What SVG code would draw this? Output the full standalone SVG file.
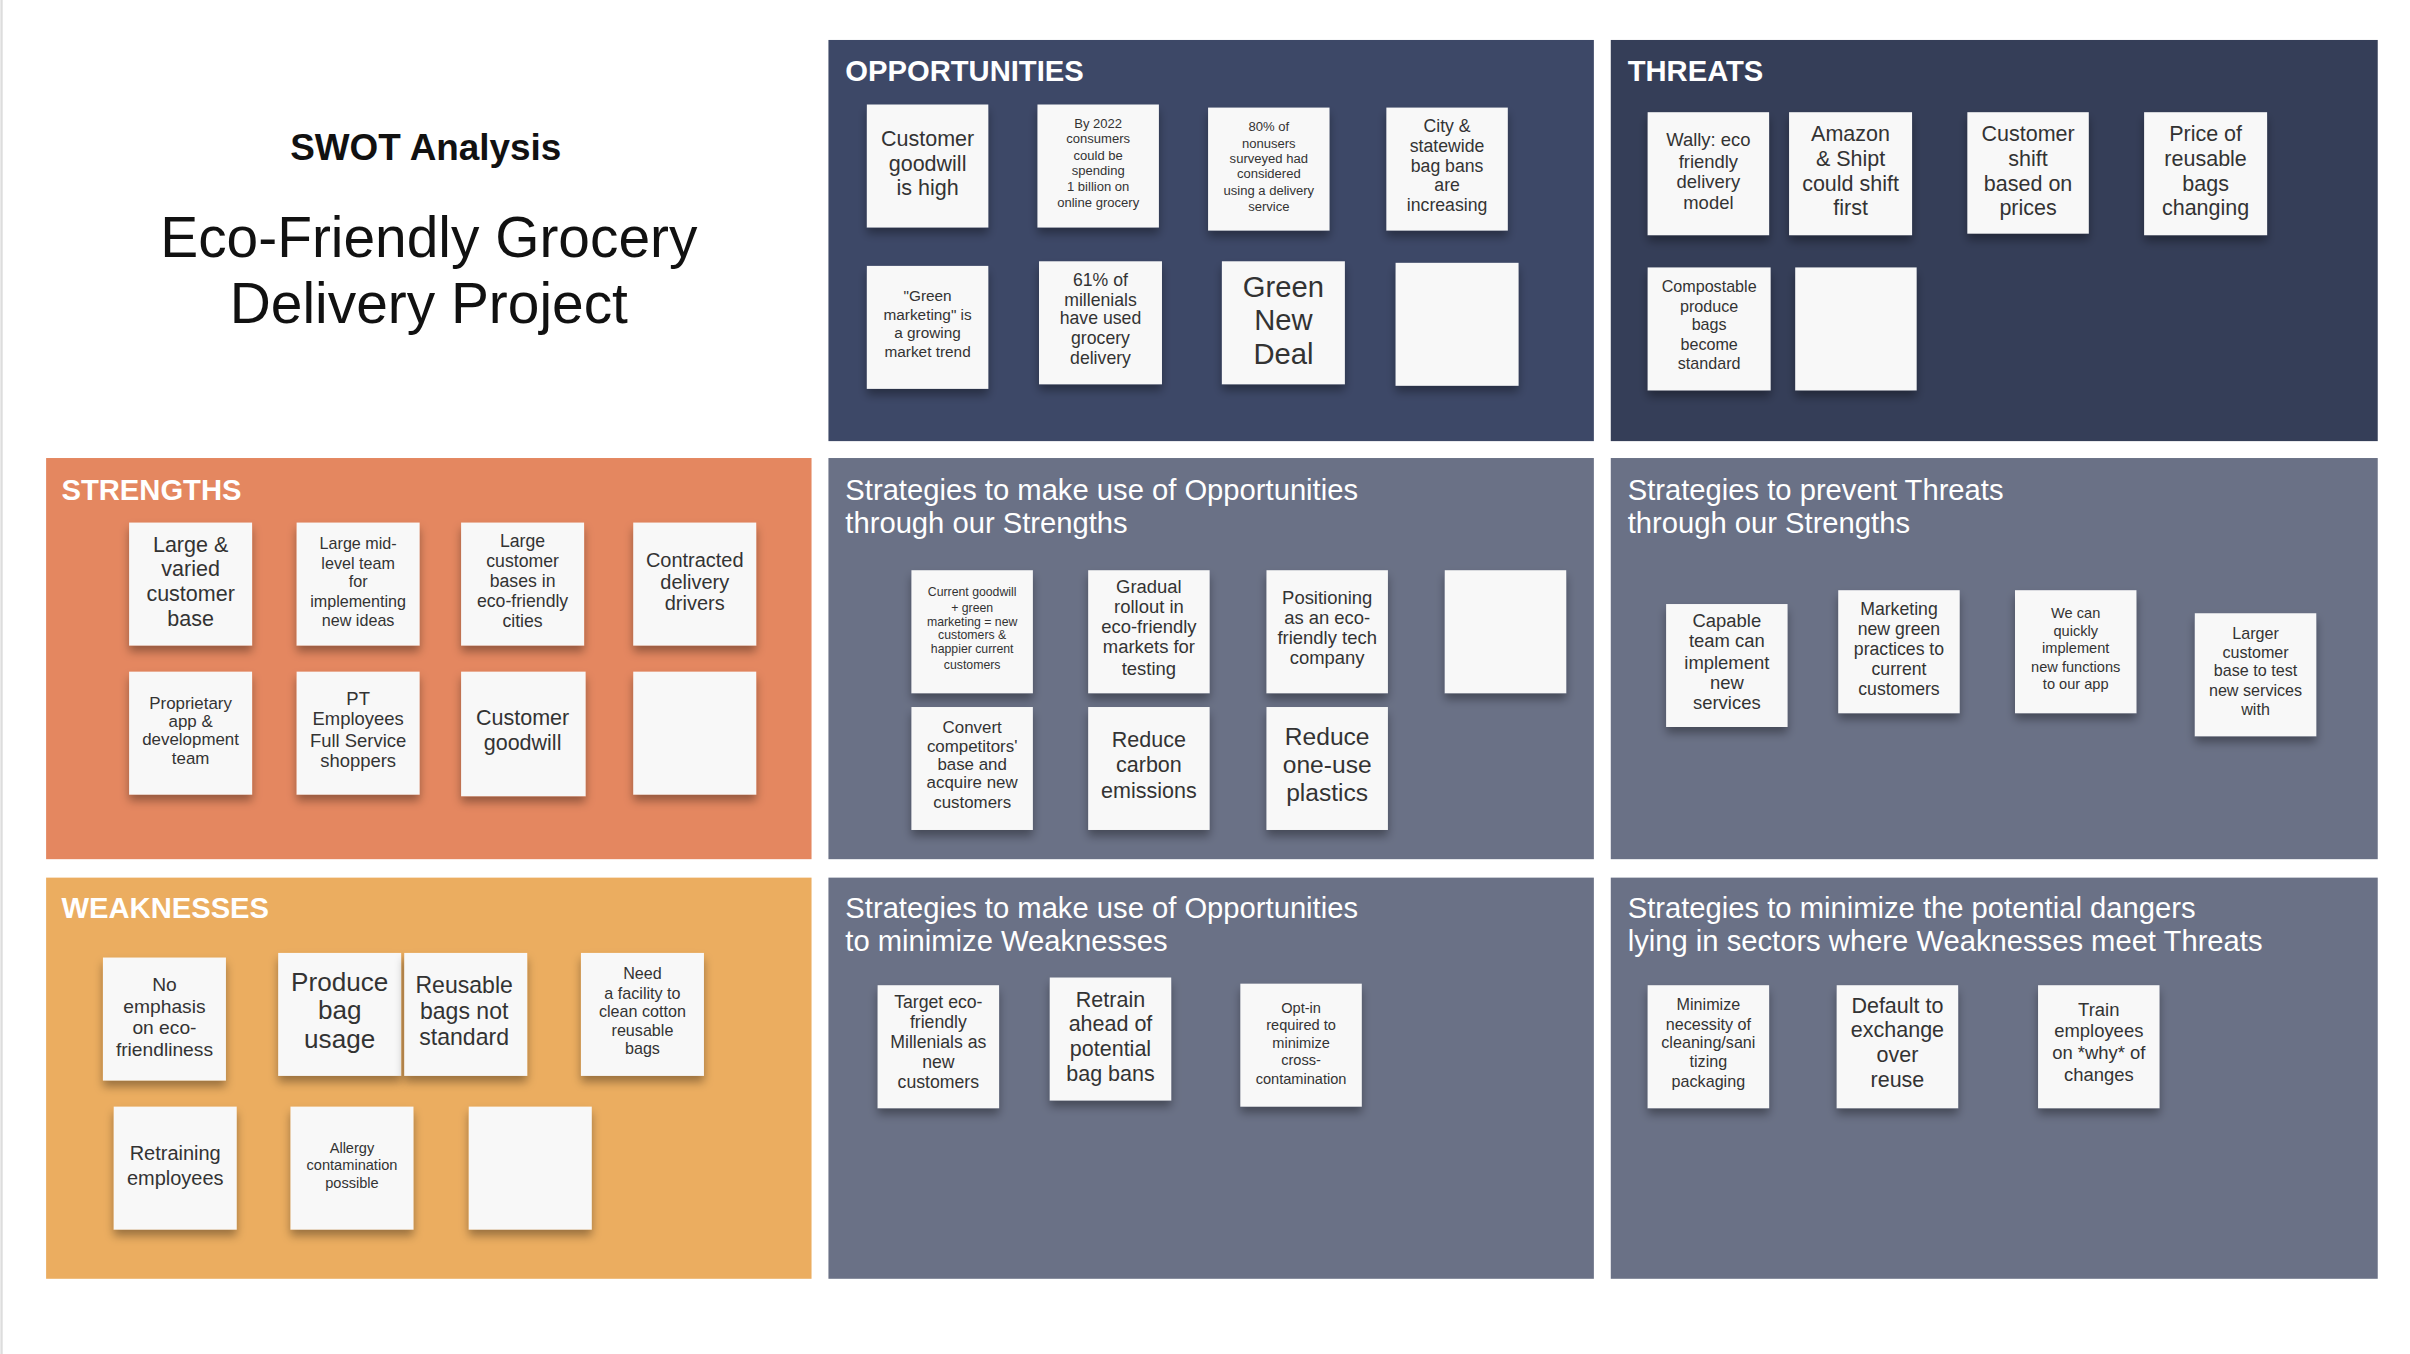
<svg xmlns="http://www.w3.org/2000/svg" width="2410" height="1354" viewBox="0 0 2410 1354">
<defs>
<filter id="sh" x="-20%" y="-20%" width="140%" height="150%"><feDropShadow dx="0" dy="4" stdDeviation="3" flood-color="#000" flood-opacity="0.35"/></filter>
<style>
text{font-family:"Liberation Sans",Arial,sans-serif;}
.n{fill:#f8f8f8;filter:url(#sh);}
.t{fill:#333;text-anchor:middle;}
.h{fill:#fff;font-weight:bold;font-size:19px;}
.s{fill:#fff;font-size:19px;}
</style>
</defs>
<rect width="2410" height="1354" fill="#fff"/>
<g transform="scale(1.537)">
<line x1="1" y1="0" x2="1" y2="881" stroke="#ddd" stroke-width="1.5"/>
<g id="title">
<text x="277" y="104" text-anchor="middle" font-size="24" font-weight="bold" fill="#111">SWOT Analysis</text>
<text x="279" y="167" text-anchor="middle" font-size="37" fill="#111">Eco-Friendly Grocery</text>
<text x="279" y="210" text-anchor="middle" font-size="37" fill="#111">Delivery Project</text>
</g>
<g id="panels">
<rect x="539" y="26" width="498" height="261" fill="#3d4867"/>
<rect x="1048" y="26" width="499" height="261" fill="#353e58"/>
<rect x="30" y="298" width="498" height="261" fill="#e48760"/>
<rect x="539" y="298" width="498" height="261" fill="#6a7186"/>
<rect x="1048" y="298" width="499" height="261" fill="#6a7186"/>
<rect x="30" y="571" width="498" height="261" fill="#ebad60"/>
<rect x="539" y="571" width="498" height="261" fill="#6a7186"/>
<rect x="1048" y="571" width="499" height="261" fill="#6a7186"/>
<text class="h" x="550" y="53">OPPORTUNITIES</text>
<text class="h" x="1059" y="53">THREATS</text>
<text class="h" x="40" y="325">STRENGTHS</text>
<text class="h" x="40" y="597">WEAKNESSES</text>
<text class="s" x="550" y="325">Strategies to make use of Opportunities</text>
<text class="s" x="550" y="347">through our Strengths</text>
<text class="s" x="1059" y="325">Strategies to prevent Threats</text>
<text class="s" x="1059" y="347">through our Strengths</text>
<text class="s" x="550" y="597">Strategies to make use of Opportunities</text>
<text class="s" x="550" y="619">to minimize Weaknesses</text>
<text class="s" x="1059" y="597">Strategies to minimize the potential dangers</text>
<text class="s" x="1059" y="619">lying in sectors where Weaknesses meet Threats</text>
</g>

<!-- Opportunities -->
<g id="o1"><rect class="n" x="564" y="68" width="79" height="80"/><text class="t" font-size="14"><tspan x="603.5" y="95">Customer</tspan><tspan x="603.5" y="111">goodwill</tspan><tspan x="603.5" y="127">is high</tspan></text></g>
<g id="o2"><rect class="n" x="675" y="68" width="79" height="80"/><text class="t" font-size="8.5"><tspan x="714.5" y="83">By 2022</tspan><tspan x="714.5" y="93">consumers</tspan><tspan x="714.5" y="104">could be</tspan><tspan x="714.5" y="114">spending</tspan><tspan x="714.5" y="124">1 billion on</tspan><tspan x="714.5" y="135">online grocery</tspan></text></g>
<g id="o3"><rect class="n" x="786" y="70" width="79" height="80"/><text class="t" font-size="8.5"><tspan x="825.5" y="85">80% of</tspan><tspan x="825.5" y="96">nonusers</tspan><tspan x="825.5" y="106">surveyed had</tspan><tspan x="825.5" y="116">considered</tspan><tspan x="825.5" y="127">using a delivery</tspan><tspan x="825.5" y="137">service</tspan></text></g>
<g id="o4"><rect class="n" x="902" y="70" width="79" height="80"/><text class="t" font-size="11.5"><tspan x="941.5" y="86">City &amp;</tspan><tspan x="941.5" y="99">statewide</tspan><tspan x="941.5" y="112">bag bans</tspan><tspan x="941.5" y="124">are</tspan><tspan x="941.5" y="137">increasing</tspan></text></g>
<g id="o5"><rect class="n" x="564" y="173" width="79" height="80"/><text class="t" font-size="10"><tspan x="603.5" y="196">"Green</tspan><tspan x="603.5" y="208">marketing" is</tspan><tspan x="603.5" y="220">a growing</tspan><tspan x="603.5" y="232">market trend</tspan></text></g>
<g id="o6"><rect class="n" x="676" y="170" width="80" height="80"/><text class="t" font-size="11.5"><tspan x="716" y="186">61% of</tspan><tspan x="716" y="199">millenials</tspan><tspan x="716" y="211">have used</tspan><tspan x="716" y="224">grocery</tspan><tspan x="716" y="237">delivery</tspan></text></g>
<g id="o7"><rect class="n" x="795" y="170" width="80" height="80"/><text class="t" font-size="19"><tspan x="835" y="193">Green</tspan><tspan x="835" y="215">New</tspan><tspan x="835" y="237">Deal</tspan></text></g>
<g id="o8"><rect class="n" x="908" y="171" width="80" height="80"/></g>

<!-- Threats -->
<g id="t1"><rect class="n" x="1072" y="73" width="79" height="80"/><text class="t" font-size="12"><tspan x="1111.5" y="95">Wally: eco</tspan><tspan x="1111.5" y="109">friendly</tspan><tspan x="1111.5" y="122">delivery</tspan><tspan x="1111.5" y="136">model</tspan></text></g>
<g id="t2"><rect class="n" x="1164" y="73" width="80" height="80"/><text class="t" font-size="14"><tspan x="1204" y="92">Amazon</tspan><tspan x="1204" y="108">&amp; Shipt</tspan><tspan x="1204" y="124">could shift</tspan><tspan x="1204" y="140">first</tspan></text></g>
<g id="t3"><rect class="n" x="1280" y="73" width="79" height="79"/><text class="t" font-size="14"><tspan x="1319.5" y="92">Customer</tspan><tspan x="1319.5" y="108">shift</tspan><tspan x="1319.5" y="124">based on</tspan><tspan x="1319.5" y="140">prices</tspan></text></g>
<g id="t4"><rect class="n" x="1395" y="73" width="80" height="80"/><text class="t" font-size="14"><tspan x="1435" y="92">Price of</tspan><tspan x="1435" y="108">reusable</tspan><tspan x="1435" y="124">bags</tspan><tspan x="1435" y="140">changing</tspan></text></g>
<g id="t5"><rect class="n" x="1072" y="174" width="80" height="80"/><text class="t" font-size="10.5"><tspan x="1112" y="190">Compostable</tspan><tspan x="1112" y="203">produce</tspan><tspan x="1112" y="215">bags</tspan><tspan x="1112" y="228">become</tspan><tspan x="1112" y="240">standard</tspan></text></g>
<g id="t6"><rect class="n" x="1168" y="174" width="79" height="80"/></g>

<!-- Strengths -->
<g id="s1"><rect class="n" x="84" y="340" width="80" height="80"/><text class="t" font-size="14"><tspan x="124" y="359">Large &amp;</tspan><tspan x="124" y="375">varied</tspan><tspan x="124" y="391">customer</tspan><tspan x="124" y="407">base</tspan></text></g>
<g id="s2"><rect class="n" x="193" y="340" width="80" height="80"/><text class="t" font-size="10.5"><tspan x="233" y="357">Large mid-</tspan><tspan x="233" y="370">level team</tspan><tspan x="233" y="382">for</tspan><tspan x="233" y="395">implementing</tspan><tspan x="233" y="407">new ideas</tspan></text></g>
<g id="s3"><rect class="n" x="300" y="340" width="80" height="80"/><text class="t" font-size="11.5"><tspan x="340" y="356">Large</tspan><tspan x="340" y="369">customer</tspan><tspan x="340" y="382">bases in</tspan><tspan x="340" y="395">eco-friendly</tspan><tspan x="340" y="408">cities</tspan></text></g>
<g id="s4"><rect class="n" x="412" y="340" width="80" height="80"/><text class="t" font-size="13"><tspan x="452" y="369">Contracted</tspan><tspan x="452" y="383">delivery</tspan><tspan x="452" y="397">drivers</tspan></text></g>
<g id="s5"><rect class="n" x="84" y="437" width="80" height="80"/><text class="t" font-size="11"><tspan x="124" y="461">Proprietary</tspan><tspan x="124" y="473">app &amp;</tspan><tspan x="124" y="485">development</tspan><tspan x="124" y="497">team</tspan></text></g>
<g id="s6"><rect class="n" x="193" y="437" width="80" height="80"/><text class="t" font-size="12"><tspan x="233" y="459">PT</tspan><tspan x="233" y="472">Employees</tspan><tspan x="233" y="486">Full Service</tspan><tspan x="233" y="499">shoppers</tspan></text></g>
<g id="s7"><rect class="n" x="300" y="437" width="81" height="81"/><text class="t" font-size="14"><tspan x="340" y="472">Customer</tspan><tspan x="340" y="488">goodwill</tspan></text></g>
<g id="s8"><rect class="n" x="412" y="437" width="80" height="80"/></g>

<!-- Weaknesses -->
<g id="w1"><rect class="n" x="67" y="623" width="80" height="80"/><text class="t" font-size="12.5"><tspan x="107" y="645">No</tspan><tspan x="107" y="659">emphasis</tspan><tspan x="107" y="673">on eco-</tspan><tspan x="107" y="687">friendliness</tspan></text></g>
<g id="w2"><rect class="n" x="181" y="620" width="80" height="80"/><text class="t" font-size="17"><tspan x="221" y="645">Produce</tspan><tspan x="221" y="663">bag</tspan><tspan x="221" y="682">usage</tspan></text></g>
<g id="w3"><rect class="n" x="263" y="620" width="80" height="80"/><text class="t" font-size="15"><tspan x="302" y="646">Reusable</tspan><tspan x="302" y="663">bags not</tspan><tspan x="302" y="680">standard</tspan></text></g>
<g id="w4"><rect class="n" x="378" y="620" width="80" height="80"/><text class="t" font-size="10.5"><tspan x="418" y="637">Need</tspan><tspan x="418" y="650">a facility to</tspan><tspan x="418" y="662">clean cotton</tspan><tspan x="418" y="674">reusable</tspan><tspan x="418" y="686">bags</tspan></text></g>
<g id="w5"><rect class="n" x="74" y="720" width="80" height="80"/><text class="t" font-size="13"><tspan x="114" y="755">Retraining</tspan><tspan x="114" y="771">employees</tspan></text></g>
<g id="w6"><rect class="n" x="189" y="720" width="80" height="80"/><text class="t" font-size="9.5"><tspan x="229" y="750">Allergy</tspan><tspan x="229" y="761">contamination</tspan><tspan x="229" y="773">possible</tspan></text></g>
<g id="w7"><rect class="n" x="305" y="720" width="80" height="80"/></g>

<!-- SO -->
<g id="so1"><rect class="n" x="593" y="371" width="79" height="80"/><text class="t" font-size="8"><tspan x="632.5" y="388">Current goodwill</tspan><tspan x="632.5" y="398">+ green</tspan><tspan x="632.5" y="407">marketing = new</tspan><tspan x="632.5" y="416">customers &amp;</tspan><tspan x="632.5" y="425">happier current</tspan><tspan x="632.5" y="435">customers</tspan></text></g>
<g id="so2"><rect class="n" x="708" y="371" width="79" height="80"/><text class="t" font-size="12"><tspan x="747.5" y="386">Gradual</tspan><tspan x="747.5" y="399">rollout in</tspan><tspan x="747.5" y="412">eco-friendly</tspan><tspan x="747.5" y="425">markets for</tspan><tspan x="747.5" y="439">testing</tspan></text></g>
<g id="so3"><rect class="n" x="824" y="371" width="79" height="80"/><text class="t" font-size="12"><tspan x="863.5" y="393">Positioning</tspan><tspan x="863.5" y="406">as an eco-</tspan><tspan x="863.5" y="419">friendly tech</tspan><tspan x="863.5" y="432">company</tspan></text></g>
<g id="so4"><rect class="n" x="940" y="371" width="79" height="80"/></g>
<g id="so5"><rect class="n" x="593" y="460" width="79" height="80"/><text class="t" font-size="11"><tspan x="632.5" y="477">Convert</tspan><tspan x="632.5" y="489">competitors'</tspan><tspan x="632.5" y="501">base and</tspan><tspan x="632.5" y="513">acquire new</tspan><tspan x="632.5" y="526">customers</tspan></text></g>
<g id="so6"><rect class="n" x="708" y="460" width="79" height="80"/><text class="t" font-size="14"><tspan x="747.5" y="486">Reduce</tspan><tspan x="747.5" y="502">carbon</tspan><tspan x="747.5" y="519">emissions</tspan></text></g>
<g id="so7"><rect class="n" x="824" y="460" width="79" height="80"/><text class="t" font-size="16"><tspan x="863.5" y="485">Reduce</tspan><tspan x="863.5" y="503">one-use</tspan><tspan x="863.5" y="521">plastics</tspan></text></g>

<!-- ST -->
<g id="st1"><rect class="n" x="1084" y="393" width="79" height="80"/><text class="t" font-size="12"><tspan x="1123.5" y="408">Capable</tspan><tspan x="1123.5" y="421">team can</tspan><tspan x="1123.5" y="435">implement</tspan><tspan x="1123.5" y="448">new</tspan><tspan x="1123.5" y="461">services</tspan></text></g>
<g id="st2"><rect class="n" x="1196" y="384" width="79" height="80"/><text class="t" font-size="11.5"><tspan x="1235.5" y="400">Marketing</tspan><tspan x="1235.5" y="413">new green</tspan><tspan x="1235.5" y="426">practices to</tspan><tspan x="1235.5" y="439">current</tspan><tspan x="1235.5" y="452">customers</tspan></text></g>
<g id="st3"><rect class="n" x="1311" y="384" width="79" height="80"/><text class="t" font-size="9.5"><tspan x="1350.5" y="402">We can</tspan><tspan x="1350.5" y="414">quickly</tspan><tspan x="1350.5" y="425">implement</tspan><tspan x="1350.5" y="437">new functions</tspan><tspan x="1350.5" y="448">to our app</tspan></text></g>
<g id="st4"><rect class="n" x="1428" y="399" width="79" height="80"/><text class="t" font-size="10.5"><tspan x="1467.5" y="416">Larger</tspan><tspan x="1467.5" y="428">customer</tspan><tspan x="1467.5" y="440">base to test</tspan><tspan x="1467.5" y="453">new services</tspan><tspan x="1467.5" y="465">with</tspan></text></g>

<!-- WO -->
<g id="wo1"><rect class="n" x="571" y="641" width="79" height="80"/><text class="t" font-size="11.5"><tspan x="610.5" y="656">Target eco-</tspan><tspan x="610.5" y="669">friendly</tspan><tspan x="610.5" y="682">Millenials as</tspan><tspan x="610.5" y="695">new</tspan><tspan x="610.5" y="708">customers</tspan></text></g>
<g id="wo2"><rect class="n" x="683" y="636" width="79" height="80"/><text class="t" font-size="14"><tspan x="722.5" y="655">Retrain</tspan><tspan x="722.5" y="671">ahead of</tspan><tspan x="722.5" y="687">potential</tspan><tspan x="722.5" y="703">bag bans</tspan></text></g>
<g id="wo3"><rect class="n" x="807" y="640" width="79" height="80"/><text class="t" font-size="9.5"><tspan x="846.5" y="659">Opt-in</tspan><tspan x="846.5" y="670">required to</tspan><tspan x="846.5" y="682">minimize</tspan><tspan x="846.5" y="693">cross-</tspan><tspan x="846.5" y="705">contamination</tspan></text></g>

<!-- WT -->
<g id="wt1"><rect class="n" x="1072" y="641" width="79" height="80"/><text class="t" font-size="10.5"><tspan x="1111.5" y="657">Minimize</tspan><tspan x="1111.5" y="670">necessity of</tspan><tspan x="1111.5" y="682">cleaning/sani</tspan><tspan x="1111.5" y="694">tizing</tspan><tspan x="1111.5" y="707">packaging</tspan></text></g>
<g id="wt2"><rect class="n" x="1195" y="641" width="79" height="80"/><text class="t" font-size="14"><tspan x="1234.5" y="659">Default to</tspan><tspan x="1234.5" y="675">exchange</tspan><tspan x="1234.5" y="691">over</tspan><tspan x="1234.5" y="707">reuse</tspan></text></g>
<g id="wt3"><rect class="n" x="1326" y="641" width="79" height="80"/><text class="t" font-size="12"><tspan x="1365.5" y="661">Train</tspan><tspan x="1365.5" y="675">employees</tspan><tspan x="1365.5" y="689">on *why* of</tspan><tspan x="1365.5" y="703">changes</tspan></text></g>
<g id="connectors"/>
</g>
</svg>
